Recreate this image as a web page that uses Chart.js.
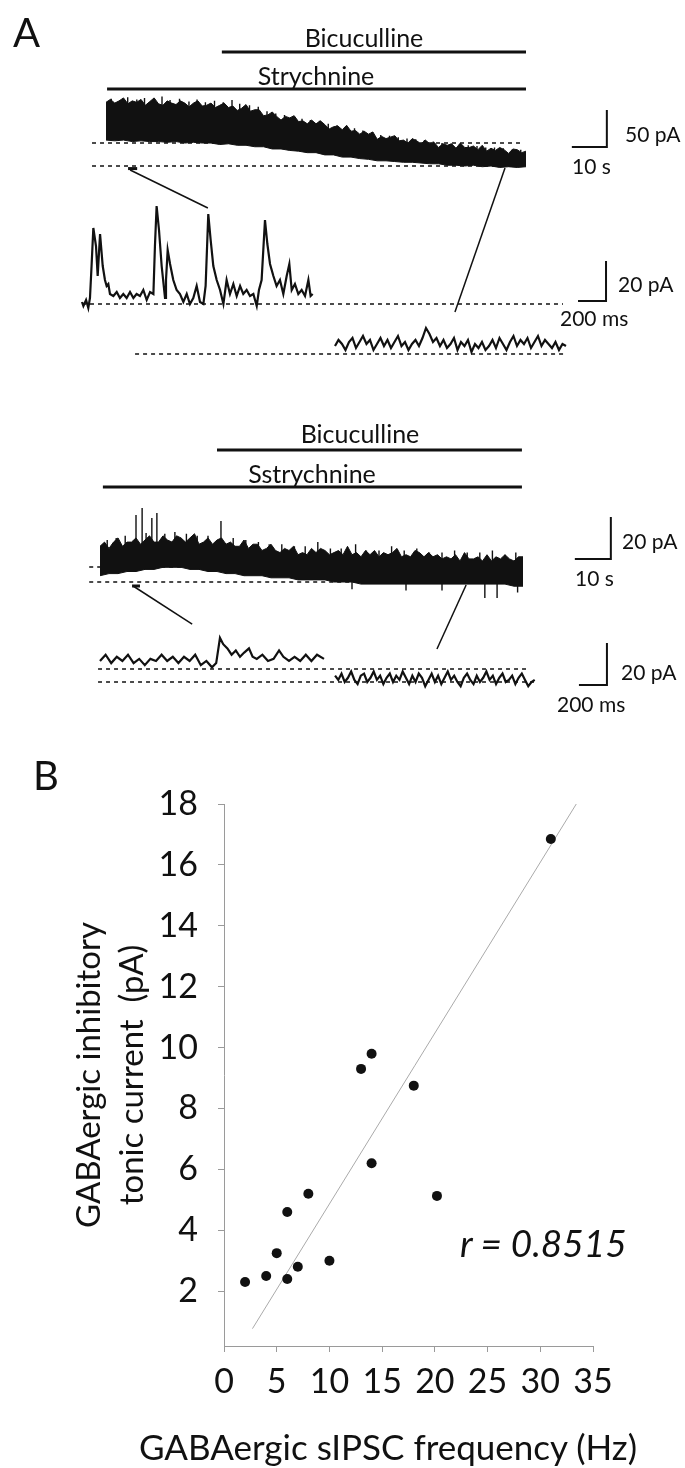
<!DOCTYPE html>
<html>
<head>
<meta charset="utf-8">
<script src="https://cdn.jsdelivr.net/npm/chart.js@4.4.1/dist/chart.umd.min.js"></script>
<style>
  body { margin: 0; background: #fff; }
  #page { position: relative; width: 685px; height: 1468px; overflow: hidden; font-family: Lato, "DejaVu Sans", sans-serif; color: #111; }
  #page canvas { position: absolute; left: 0; }
  .note { position: absolute; white-space: nowrap; line-height: 1; }
</style>
</head>
<body>
<div id="page">
  <canvas id="cellA1" width="685" height="380" style="top:0"></canvas>
  <canvas id="cellA2" width="685" height="340" style="top:380px"></canvas>
  <canvas id="scatterB" width="685" height="748" style="top:720px"></canvas>
</div>
<script>
// ---------- panel A, first cell (time in s, current in pA) ----------
// upper edge of the noisy holding current, sampled every 1.25 s
const topT1 = [0, 1.25, 2.5, 3.75, 5, 6.25, 7.5, 8.75, 10, 11.25, 12.5, 13.75, 15, 16.25, 17.5, 18.75,
  20, 21.25, 22.5, 23.75, 25, 26.25, 27.5, 28.75, 30, 31.25, 32.5, 33.75, 35, 36.25, 37.5, 38.75,
  40, 41.25, 42.5, 43.75, 45, 46.25, 47.5, 48.75, 50, 51.25, 52.5, 53.75, 55, 56.25, 57.5, 58.75,
  60, 61.25, 62.5, 63.75, 65, 66.25, 67.5, 68.75, 70, 71.25, 72.5, 73.75, 75, 76.25, 77.5, 78.75,
  80, 81.25, 82.5, 83.75, 85, 86.25, 87.5, 88.75, 90, 91.25, 92.5, 93.75, 95, 96.25, 97.5, 98.75,
  100, 101.25, 102.5, 103.75, 105, 106.25, 107.5, 108.75, 110, 111.25, 112.5, 113.75, 115, 116.25, 117.5, 118.75, 120];
const topPa1 = [86, 90, 85, 88, 92, 84, 88, 86, 90, 82, 87, 92, 84, 82, 88, 85,
  83, 88, 85, 80, 85, 88, 81, 82, 85, 79, 82, 85, 79, 81, 75, 78,
  83, 74, 76, 76, 68, 69, 73, 67, 62, 67, 65, 68, 60, 61, 57, 62,
  57, 61, 56, 50, 53, 54, 49, 55, 47, 48, 43, 47, 43, 46, 36, 40,
  37, 39, 41, 34, 35, 31, 37, 34, 30, 35, 30, 32, 25, 30, 28, 30,
  24, 31, 25, 25, 27, 22, 28, 20, 24, 21, 25, 22, 17, 23, 22, 18, 20];
// lower edge, sampled every 2.5 s
const botT1 = [0, 2.5, 5, 7.5, 10, 12.5, 15, 17.5, 20, 22.5, 25, 27.5, 30, 32.5, 35, 37.5, 40, 42.5, 45, 47.5,
  50, 52.5, 55, 57.5, 60, 62.5, 65, 67.5, 70, 72.5, 75, 77.5, 80, 82.5, 85, 87.5, 90, 92.5, 95, 97.5,
  100, 102.5, 105, 107.5, 110, 112.5, 115, 117.5, 120];
const botPa1 = [35, 34, 35, 33, 34, 33, 33, 32, 33, 31, 32, 31, 31, 29, 30, 28, 28, 26, 26, 23,
  23, 21, 20, 18, 18, 15, 15, 12, 12, 10, 9, 7, 7, 6, 5, 5, 4, 3, 3, 1,
  1, 0, 1, -1, 0, -2, -1, -2, -1];
// taller noise spikes riding on the top edge
const spikeT1 = [1.5, 4, 6.2, 8.8, 11, 13.5, 16, 18.3, 21, 23.7, 26, 28.4, 31, 33.5, 36, 38.2, 41, 43.5, 46, 48.5,
  51, 53.6, 56, 58.4, 61, 63.5, 66, 68.5, 71, 73.4, 76, 78.5, 81, 83.5, 86, 88.5, 91, 93.5, 96, 98.6,
  101, 103.5, 106, 108.5, 111, 113.5, 116, 118.5];
const spikeTip1 = [91, 89, 93, 90, 92, 88, 94, 89, 91, 87, 90, 86, 88, 86, 89, 84, 82, 80, 74, 71,
  69, 66, 64, 62, 61, 57, 55, 53, 51, 48, 46, 42, 41, 39, 37, 36, 35, 33, 31, 30,
  29, 28, 27, 25, 25, 24, 22, 22];
const drugs1 = ['Bicuculline', 'Strychnine'];
const drugOn1 = [33.1, 0.3];
const drugOff1 = [120, 120];
const levels1 = [31, 0];          // baseline before / after bicuculline (pA)

// expanded sweeps, first cell (time in ms, current in pA)
const ctrlMs1 = [0, 10, 29, 45, 57, 69, 81, 100, 112, 129, 148, 164, 176, 188, 200, 224, 248, 271, 295, 319,
  343, 367, 390, 414, 438, 462, 486, 510, 521, 533, 550, 569, 593, 600, 612, 629, 652, 676, 700, 724,
  748, 771, 795, 819, 843, 867, 883, 902, 919, 938, 962, 986, 1010, 1033, 1057, 1081, 1105, 1129, 1152, 1176,
  1200, 1224, 1248, 1264, 1283, 1307, 1324, 1343, 1367, 1390, 1414, 1438, 1462, 1481, 1498, 1521, 1545, 1569, 1593, 1617,
  1633, 1648];
const ctrlPa1 = [26, 24, 27, 23, 28, 45, 63, 54, 39, 60, 44, 37, 34, 35, 30, 29, 31, 28, 30, 28,
  31, 28, 30, 29, 32, 27, 31, 30, 54, 74, 62, 44, 28, 37, 52, 45, 37, 32, 30, 26,
  30, 25, 28, 34, 26, 25, 34, 70, 57, 44, 37, 32, 25, 37, 30, 35, 29, 34, 30, 32,
  29, 30, 24, 32, 37, 67, 55, 45, 39, 34, 37, 30, 39, 45, 32, 35, 30, 32, 29, 37,
  29, 30];
const bicMs1 = [1807, 1832, 1857, 1882, 1907, 1932, 1957, 1982, 2007, 2032, 2057, 2082, 2107, 2132, 2157, 2182,
  2207, 2232, 2257, 2282, 2307, 2332, 2357, 2382, 2407, 2432, 2457, 2482, 2507, 2532, 2557, 2582, 2607, 2632,
  2657, 2682, 2707, 2732, 2757, 2782, 2807, 2832, 2857, 2882, 2907, 2932, 2957, 2982, 3007, 3032, 3057, 3082,
  3107, 3132, 3157, 3182, 3207, 3232, 3257, 3282, 3307, 3332, 3357, 3382, 3407, 3432, 3457];
const bicPa1 = [4, 7, 5, 2, 6, 8, 3, 6, 9, 5, 7, 2, 5, 8, 4, 7, 3, 6, 9, 4,
  6, 2, 5, 7, 4, 8, 13, 10, 6, 8, 4, 7, 3, 5, 8, 2, 6, 4, 7, 1,
  5, 3, 6, 2, 4, 7, 3, 8, 5, 2, 6, 9, 4, 7, 5, 8, 3, 6, 9, 4,
  7, 5, 3, 6, 2, 5, 4];
const levelsShort1 = [25, 0];

// ---------- panel A, second cell ----------
const topT2 = [0, 1.25, 2.5, 3.75, 5, 6.25, 7.5, 8.75, 10, 11.25, 12.5, 13.75, 15, 16.25, 17.5, 18.75,
  20, 21.25, 22.5, 23.75, 25, 26.25, 27.5, 28.75, 30, 31.25, 32.5, 33.75, 35, 36.25, 37.5, 38.75,
  40, 41.25, 42.5, 43.75, 45, 46.25, 47.5, 48.75, 50, 51.25, 52.5, 53.75, 55, 56.25, 57.5, 58.75,
  60, 61.25, 62.5, 63.75, 65, 66.25, 67.5, 68.75, 70, 71.25, 72.5, 73.75, 75, 76.25, 77.5, 78.75,
  80, 81.25, 82.5, 83.75, 85, 86.25, 87.5, 88.75, 90, 91.25, 92.5, 93.75, 95, 96.25, 97.5, 98.75,
  100, 101.25, 102.5, 103.75, 105, 106.25, 107.5, 108.75, 110, 111.25, 112.5, 113.75, 115, 116.25, 117.5];
const topPa2 = [17, 19, 16, 19, 21, 17, 19, 19, 21, 18, 20, 22, 19, 19, 22, 20,
  19, 22, 21, 19, 21, 23, 18, 19, 21, 18, 20, 21, 18, 19, 17, 17,
  20, 16, 18, 18, 15, 16, 18, 15, 14, 16, 15, 17, 13, 14, 13, 16,
  14, 16, 15, 13, 14, 15, 13, 17, 13, 14, 12, 15, 13, 15, 12, 14,
  13, 14, 16, 12, 13, 12, 15, 14, 12, 14, 12, 13, 11, 12, 11, 13,
  10, 14, 11, 11, 12, 10, 13, 10, 12, 11, 13, 11, 10, 12, 12];
const botT2 = [0, 2.5, 5, 7.5, 10, 12.5, 15, 17.5, 20, 22.5, 25, 27.5, 30, 32.5, 35, 37.5, 40, 42.5, 45, 47.5,
  50, 52.5, 55, 57.5, 60, 62.5, 65, 67.5, 70, 72.5, 75, 77.5, 80, 82.5, 85, 87.5, 90, 92.5, 95, 97.5,
  100, 102.5, 105, 107.5, 110, 112.5, 115, 117.5];
const botPa2 = [3, 4, 4, 5, 5, 6, 6, 7, 7, 7, 6, 6, 5, 5, 4, 4, 3, 3, 3, 2,
  2, 2, 1, 1, 1, 1, 0, 0, 0, -1, -1, -1, -1, -1, -1, -1, -1, -1, -1, -1,
  -1, -1, -1, -1, -1, -1, -2, -2];
const spikeT2 = [2, 4.5, 7, 10, 11.7, 12.8, 14.4, 15.8, 18, 20.8, 24, 27, 30, 33.6, 37, 40.5, 44, 47, 50.5, 54,
  57, 60.5, 64, 67, 71, 74, 77.5, 81, 84.5, 88, 91.5, 95, 98.5, 102, 105.5, 109, 112.5, 115.5];
const spikeTip2 = [20, 21, 22, 31.9, 35.2, 23.3, 30.5, 32.9, 23, 23.8, 23, 22, 22, 29, 21, 20, 19, 18, 18, 17,
  17, 19, 16, 16, 18, 15, 15, 17, 15, 16, 14, 14, 15, 14, 14, 15, 13, 14];
const dipT2 = [70, 85, 95, 106.9, 110.3, 116];
const dipTip2 = [-3.5, -4, -4, -7.6, -7.6, -5];
const drugs2 = ['Bicuculline', 'Sstrychnine'];
const drugOn2 = [32.5, 0.8];
const drugOff2 = [117.2, 117.2];
const levels2 = [7.1, 0];

const ctrlMs2 = [0, 40, 80, 120, 160, 200, 240, 280, 320, 360, 400, 440, 480, 520, 560, 600, 640, 680, 720, 760,
  800, 830, 857, 880, 910, 940, 970, 1000, 1030, 1064, 1090, 1120, 1160, 1200, 1240, 1279, 1310, 1350, 1390, 1430,
  1470, 1510, 1550, 1600];
const ctrlPa2 = [10, 13, 9, 12, 10, 13, 9, 11, 8, 11, 10, 13, 10, 12, 9, 12, 10, 13, 8, 10,
  7, 9, 21, 18, 16, 13, 15, 12, 14, 16, 12, 11, 13, 10, 11, 15, 12, 10, 12, 10,
  13, 10, 13, 11];
const bicMs2 = [1679, 1702, 1725, 1748, 1771, 1794, 1817, 1840, 1863, 1886, 1909, 1932, 1955, 1978, 2001, 2024,
  2047, 2070, 2093, 2116, 2139, 2162, 2185, 2208, 2231, 2254, 2277, 2300, 2323, 2346, 2369, 2392, 2415, 2438,
  2461, 2484, 2507, 2530, 2553, 2576, 2599, 2622, 2645, 2668, 2691, 2714, 2737, 2760, 2783, 2806, 2829, 2852,
  2875, 2898, 2921, 2944, 2967, 2990, 3013, 3036, 3059, 3082, 3105];
const bicPa2 = [3, 1, 4, 0, 2, 5, 1, -1, 3, 4, 0, 2, 5, 1, 3, -1, 2, 4, 0, 3,
  1, 5, 2, -1, 3, 0, 4, 2, -2, 1, 4, 0, 3, -1, 2, 5, 1, 3, 0, -2,
  2, 4, 1, -1, 3, 0, 2, 5, 1, 3, -1, 2, 4, 0, 1, 3, -1, 2, 4, 1,
  -2, 0, 1];
const levelsShort2 = [6.2, 0];

// ---------- panel B ----------
const freqHz = [2, 4, 5, 6, 6, 7, 8, 10, 13, 14, 14, 18, 20.2, 31];
const tonicPa = [2.3, 2.5, 3.25, 4.6, 2.4, 2.8, 5.2, 3.0, 9.3, 9.8, 6.2, 8.75, 5.13, 16.85];
const fitHz = [2.7, 33.7];
const fitPa = [0.77, 18.16];
const xTicks = [0, 5, 10, 15, 20, 25, 30, 35];
const yTicks = [2, 4, 6, 8, 10, 12, 14, 16, 18];

const INK = '#111';

function pts(xs, ys) {
  return xs.map((v, i) => ({ x: v, y: ys[i] }));
}

function trace(data, xId, yId, width, extra) {
  return Object.assign({
    data: data, xAxisID: xId, yAxisID: yId,
    borderColor: INK, backgroundColor: INK, borderWidth: width,
    pointRadius: 0, fill: false, tension: 0
  }, extra || {});
}

function hidden(min, max) {
  return { type: 'linear', display: false, min: min, max: max };
}

// vertical noise spikes, each one starting inside the band at the nearest envelope sample
function spikes(ts, tips, gridT, edge, inset) {
  const out = [];
  ts.forEach((t, i) => {
    let k = 0;
    gridT.forEach((g, j) => { if (Math.abs(g - t) < Math.abs(gridT[k] - t)) k = j; });
    out.push({ x: t, y: edge[k] + inset }, { x: t, y: tips[i] }, { x: t, y: null });
  });
  return out;
}

function cell(id, cfg) {
  const sets = [];
  // long recording: band between its envelopes, plus the spikes
  sets.push(trace(cfg.top, 'xl', 'yl', 1));
  sets.push(trace(cfg.bot, 'xl', 'yl', 1, { fill: '-1' }));
  cfg.spikes.forEach(s => sets.push(trace(s, 'xl', 'yl', 1.4, { spanGaps: false })));
  // expanded sweeps
  sets.push(trace(pts(cfg.ctrlMs, cfg.ctrlPa), 'xs', 'ys', 2.2));
  sets.push(trace(pts(cfg.bicMs, cfg.bicPa), 'xs', 'ys', 2.2));
  // drug application bars
  cfg.drugOn.forEach((on, i) => {
    sets.push(trace([{ x: on, y: cfg.barY[i] }, { x: cfg.drugOff[i], y: cfg.barY[i] }], 'xl', 'yl', 3));
  });
  // dashed baselines
  cfg.levels.forEach(lv => {
    sets.push(trace([{ x: cfg.dashL[0], y: lv }, { x: cfg.dashL[1], y: lv }], 'xl', 'yl', 1.5, { borderDash: [4, 4] }));
  });
  cfg.levelsShort.forEach((lv, i) => {
    sets.push(trace([{ x: cfg.dashS[i][0], y: lv }, { x: cfg.dashS[i][1], y: lv }], 'xs', 'ys', 1.5, { borderDash: [4, 4] }));
  });
  // connectors + marked stretch
  cfg.links.forEach(l => sets.push(trace(l, 'xl', 'yl', 1.5)));
  sets.push(trace(cfg.mark, 'xl', 'yl', 3));
  // scale bars
  const sl = cfg.barLong, ss = cfg.barShort;
  sets.push(trace([{ x: sl.x, y: sl.y + sl.pa }, { x: sl.x, y: sl.y }, { x: sl.x - sl.s, y: sl.y }], 'xl', 'yl', 2));
  sets.push(trace([{ x: ss.x, y: ss.y + ss.pa }, { x: ss.x, y: ss.y }, { x: ss.x - ss.ms, y: ss.y }], 'xs', 'ys', 2));

  new Chart(document.getElementById(id), {
    type: 'line',
    data: { datasets: sets },
    options: {
      responsive: false, animation: false, devicePixelRatio: 1,
      layout: { padding: 0 },
      plugins: { legend: { display: false }, tooltip: { enabled: false } },
      scales: { xl: hidden(...cfg.xl), yl: hidden(...cfg.yl), xs: hidden(...cfg.xs), ys: hidden(...cfg.ys) }
    }
  });
}

cell('cellA1', {
  top: pts(topT1, topPa1), bot: pts(botT1, botPa1),
  spikes: [spikes(spikeT1, spikeTip1, topT1, topPa1, -3)],
  ctrlMs: ctrlMs1, ctrlPa: ctrlPa1, bicMs: bicMs1, bicPa: bicPa1,
  drugOn: drugOn1, drugOff: drugOff1, barY: [154, 104],
  levels: levels1, dashL: [-4, 119],
  levelsShort: levelsShort1, dashS: [[0, 3436], [379, 3464]],
  links: [[{ x: 6.9, y: -5.4 }, { x: 29.1, y: -56.8 }], [{ x: 114, y: -2.7 }, { x: 99.7, y: -197.3 }]],
  mark: [{ x: 6.3, y: -3.5 }, { x: 8.9, y: -3.5 }],
  barLong: { x: 143.1, y: 25.7, s: 10, pa: 50 },
  barShort: { x: 3743, y: 26.5, ms: 200, pa: 20 },
  xl: [-30.29, 165.43], yl: [-289.2, 224.3], xs: [-585.7, 4307.1], ys: [-13, 177]
});

cell('cellA2', {
  top: pts(topT2, topPa2), bot: pts(botT2, botPa2),
  spikes: [spikes(spikeT2, spikeTip2, topT2, topPa2, -2), spikes(dipT2, dipTip2, botT2, botPa2, 2)],
  ctrlMs: ctrlMs2, ctrlPa: ctrlPa2, bicMs: bicMs2, bicPa: bicPa2,
  drugOn: drugOn2, drugOff: drugOff2, barY: [62.9, 45.2],
  levels: levels2, dashL: [-3, 117],
  levelsShort: levelsShort2, dashS: [[-14, 3064], [-14, 3107]],
  links: [[{ x: 9.2, y: -1.9 }, { x: 25.6, y: -20 }], [{ x: 101.7, y: -1.4 }, { x: 93.6, y: -31.9 }]],
  mark: [{ x: 8.9, y: -1.9 }, { x: 11.1, y: -1.9 }],
  barLong: { x: 141.9, y: 11, s: 10, pa: 20 },
  barShort: { x: 3621, y: -1.4, ms: 200, pa: 20 },
  xl: [-27.78, 162.5], yl: [-65.71, 96.19], xs: [-714.3, 4178.6], ys: [-18.1, 143.81]
});

// ---------- panel B scatter ----------
const AXIS = '#9a9a9a';
const tickFont = { family: 'Lato', size: 34 };

new Chart(document.getElementById('scatterB'), {
  type: 'scatter',
  data: {
    datasets: [
      {
        data: pts(freqHz, tonicPa),
        pointRadius: 5, pointBackgroundColor: INK, pointBorderColor: INK, pointBorderWidth: 0
      },
      {
        data: pts(fitHz, fitPa), showLine: true, pointRadius: 0,
        borderColor: '#aaa', borderWidth: 1
      }
    ]
  },
  options: {
    responsive: false, animation: false, devicePixelRatio: 1,
    layout: { padding: { top: 84, right: 92, left: 0, bottom: 0 } },
    plugins: { legend: { display: false }, tooltip: { enabled: false } },
    scales: {
      x: {
        type: 'linear', min: 0, max: 35,
        afterBuildTicks: s => { s.ticks = xTicks.map(v => ({ value: v })); },
        afterFit: s => { s.height = 122; },
        border: { color: AXIS, width: 1 },
        grid: { drawOnChartArea: false, color: AXIS, tickLength: 6 },
        ticks: { color: INK, font: tickFont, padding: 10, maxRotation: 0 }
      },
      y: {
        type: 'linear', min: 0.2, max: 18,
        afterBuildTicks: s => { s.ticks = yTicks.map(v => ({ value: v })); },
        afterFit: s => { s.width = 224; },
        border: { color: AXIS, width: 1 },
        grid: { drawOnChartArea: false, color: AXIS, tickLength: 6 },
        ticks: { color: INK, font: tickFont, padding: 20 },
        title: {
          display: true, text: ['GABAergic inhibitory', 'tonic current  (pA)'], color: INK,
          font: { family: 'Lato', size: 33, lineHeight: 1.3 }, padding: { top: 68, bottom: 0 }
        }
      }
    }
  }
});

// ---------- text labels ----------
const notes = [
  ['A', 13, 32, 40, 'left'],
  ['Bicuculline', 364, 37, 25, 'center'],
  ['Strychnine', 316, 75, 25, 'center'],
  ['50 pA', 625, 133, 21, 'left'],
  ['10 s', 572, 165, 21, 'left'],
  ['20 pA', 618, 283, 21, 'left'],
  ['200 ms', 560, 317, 21, 'left'],
  ['Bicuculline', 360, 433, 25, 'center'],
  ['Sstrychnine', 312, 473, 25, 'center'],
  ['20 pA', 622, 540, 21, 'left'],
  ['10 s', 575, 577, 21, 'left'],
  ['20 pA', 621, 671, 21, 'left'],
  ['200 ms', 557, 703, 21, 'left'],
  ['B', 33, 775, 40, 'left'],
  ['r = 0.8515', 460, 1242, 37, 'left', 'italic'],
  ['GABAergic sIPSC frequency (Hz)', 388, 1446, 35, 'center']
];
const page = document.getElementById('page');
notes.forEach(([txt, x, y, size, anchor, style]) => {
  const d = document.createElement('div');
  d.className = 'note';
  d.textContent = txt;
  d.style.left = x + 'px';
  d.style.top = y + 'px';
  d.style.fontSize = size + 'px';
  if (style) d.style.fontStyle = style;
  d.style.transform = anchor === 'center' ? 'translate(-50%, -50%)' : 'translateY(-50%)';
  page.appendChild(d);
});
</script>
</body>
</html>
